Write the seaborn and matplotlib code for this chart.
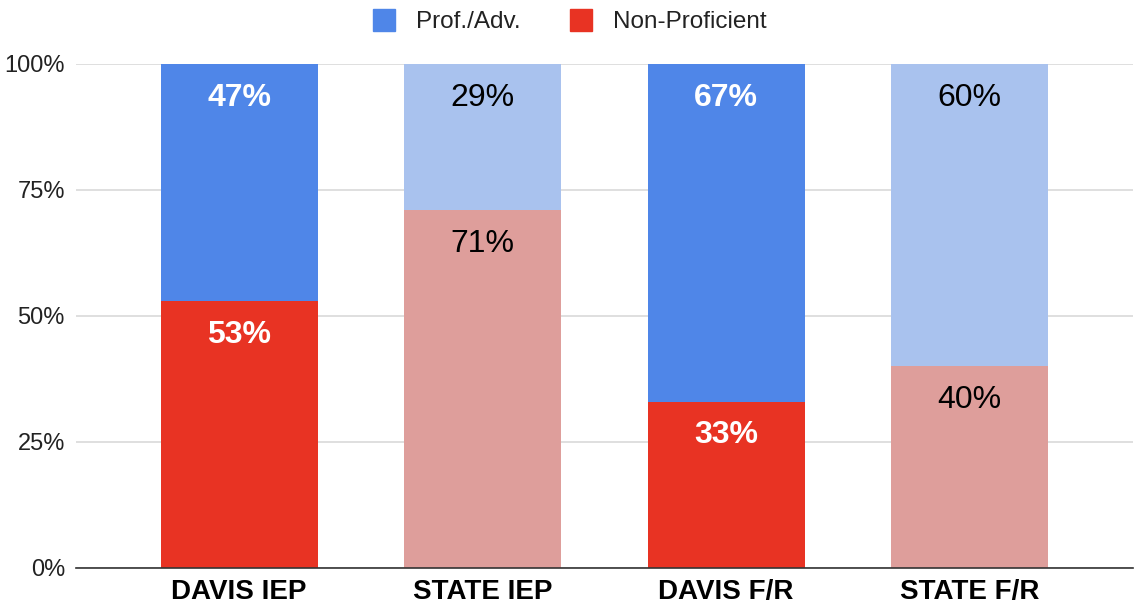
import matplotlib
matplotlib.use("Agg")
import matplotlib.pyplot as plt
from matplotlib.lines import Line2D
import seaborn as sns
import pandas as pd

# chart data
groups = ["DAVIS IEP", "STATE IEP", "DAVIS F/R", "STATE F/R"]
prof_adv = [47, 29, 67, 60]
non_prof = [53, 71, 33, 40]

top_colors = ["#4f86e8", "#a9c2ee", "#4f86e8", "#a9c2ee"]
bottom_colors = ["#e83323", "#de9e9b", "#e83323", "#de9e9b"]
is_davis = [True, False, True, False]

df = pd.DataFrame({"group": groups, "prof": prof_adv, "non": non_prof})
df["total"] = df["prof"] + df["non"]

sns.set_style("white")
plt.rcParams["font.family"] = ["Liberation Sans", "DejaVu Sans"]

fig = plt.figure(figsize=(11.35, 6.14), dpi=100)
ax = fig.add_axes([0.067, 0.075, 0.931, 0.821])

sns.barplot(data=df, x="group", y="total", hue="group", palette=top_colors,
            width=0.645, legend=False, ax=ax, saturation=1, linewidth=0)
sns.barplot(data=df, x="group", y="non", hue="group", palette=bottom_colors,
            width=0.645, legend=False, ax=ax, saturation=1, linewidth=0)

# value labels sit just inside the top of each segment
for i, row in df.iterrows():
    if is_davis[i]:
        kw = dict(color="white", fontweight="bold")
    else:
        kw = dict(color="black", fontweight="normal")
    ax.text(i, row["total"] - 6.7, f"{row['prof']}%", ha="center", va="center",
            fontsize=23, **kw)
    ax.text(i, row["non"] - 6.7, f"{row['non']}%", ha="center", va="center",
            fontsize=23, **kw)

ax.set_ylim(0, 100)
ax.set_xlim(-0.67, 3.67)
ax.set_yticks([0, 25, 50, 75, 100])
ax.set_yticklabels(["0%", "25%", "50%", "75%", "100%"], fontsize=17, color="#222222")
ax.set_xticks(range(len(groups)))
ax.set_xticklabels(groups, fontsize=20, fontweight="bold", color="black")
ax.tick_params(axis="both", length=0, pad=8)
ax.set_xlabel("")
ax.set_ylabel("")
ax.set_axisbelow(True)
ax.yaxis.grid(True, color="#d9d9d9", linewidth=1.2)
for s in ["top", "right", "left"]:
    ax.spines[s].set_visible(False)
ax.spines["bottom"].set_color("#333333")
ax.spines["bottom"].set_linewidth(1.2)

handles = [
    Line2D([0], [0], marker="s", linestyle="", markersize=16, color="#4f86e8"),
    Line2D([0], [0], marker="s", linestyle="", markersize=16, color="#e83323"),
]
fig.legend(handles, ["Prof./Adv.", "Non-Proficient"], loc="upper center",
           bbox_to_anchor=(0.496, 1.017), ncol=2, frameon=False, fontsize=17.5,
           handletextpad=0.3, columnspacing=1.5, labelcolor="#222222")

fig.savefig("out.png", dpi=100)
